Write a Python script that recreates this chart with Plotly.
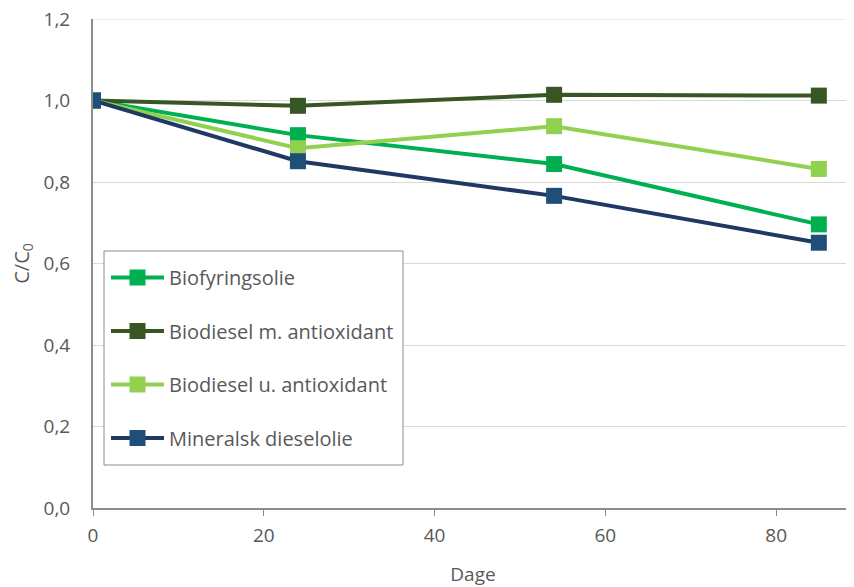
import plotly.graph_objects as go

days = [0, 24, 54, 85]
biofyringsolie = [1.0, 0.915, 0.844, 0.696]
biodiesel_m = [1.0, 0.987, 1.014, 1.012]
biodiesel_u = [1.0, 0.883, 0.937, 0.832]
mineralsk = [1.0, 0.851, 0.766, 0.651]

names = ["Biofyringsolie", "Biodiesel m. antioxidant", "Biodiesel u. antioxidant", "Mineralsk dieselolie"]
series = [biofyringsolie, biodiesel_m, biodiesel_u, mineralsk]
line_colors = ["#00B050", "#375623", "#92D050", "#203864"]
marker_colors = ["#00B050", "#375623", "#92D050", "#1F4E79"]

y_ticks = [0, 0.2, 0.4, 0.6, 0.8, 1.0, 1.2]
x_ticks = [0, 20, 40, 60, 80]

FONT = "Open Sans"
TXT = "#595959"

fig = go.Figure()
for i, (n, s) in enumerate(zip(names, series)):
    fig.add_trace(go.Scatter(
        x=days, y=s, name=n, mode="lines+markers",
        legendgroup=f"g{i}",
        line=dict(color=line_colors[i], width=4),
        marker=dict(symbol="square", size=16, color=marker_colors[i]),
    ))

# top gridline at 1.2 (plotly hides the gridline at the range edge)
fig.add_shape(type="line", xref="paper", yref="y", x0=0, x1=1, y0=y_ticks[-1], y1=y_ticks[-1],
              line=dict(color="#D9D9D9", width=1), layer="below")

# legend frame (page offset of 8px is compensated in margins)
fig.add_shape(type="rect", xref="paper", yref="paper",
              x0=(104 - 93) / 760, x1=(403 - 93) / 760,
              y0=(508 - 465) / 489, y1=(508 - 251) / 489,
              line=dict(color="#8C8C8C", width=1), fillcolor="white", layer="above")

fig.update_layout(
    width=854, height=587,
    margin=dict(l=85, r=9, t=11, b=87),
    paper_bgcolor="white", plot_bgcolor="white",
    separators=", ",
    font=dict(family=FONT, size=18, color=TXT),
    showlegend=True,
    legend=dict(
        x=(106 - 93) / 760, y=(508 - 258) / 489, xanchor="left", yanchor="top",
        borderwidth=0, bgcolor="rgba(0,0,0,0)",
        font=dict(family=FONT, size=20, color=TXT),
        tracegroupgap=24.5, itemwidth=53,
    ),
    xaxis=dict(
        range=[0, 89], tickvals=x_ticks,
        showgrid=False, zeroline=False, automargin=False,
        showline=True, linecolor="#8C8C8C", linewidth=2,
        ticks="outside", ticklen=6, tickcolor="#8C8C8C", tickwidth=1,
        ticklabelstandoff=3, ticklabeloverflow="allow",
        tickfont=dict(family=FONT, size=19, color=TXT),
        title=dict(text="Dage", font=dict(family=FONT, size=19, color=TXT), standoff=21),
    ),
    yaxis=dict(
        range=[0, 1.2], tickvals=y_ticks, tickformat=".1f",
        showgrid=True, gridcolor="#D9D9D9", gridwidth=1, zeroline=False, automargin=False,
        showline=True, linecolor="#8C8C8C", linewidth=2,
        ticks="", ticklabelstandoff=17, ticklabeloverflow="allow",
        tickfont=dict(family=FONT, size=19, color=TXT),
        title=dict(text="C/C<sub>0</sub>", font=dict(family=FONT, size=20, color=TXT), standoff=19),
    ),
)

fig.write_html("out.html")
